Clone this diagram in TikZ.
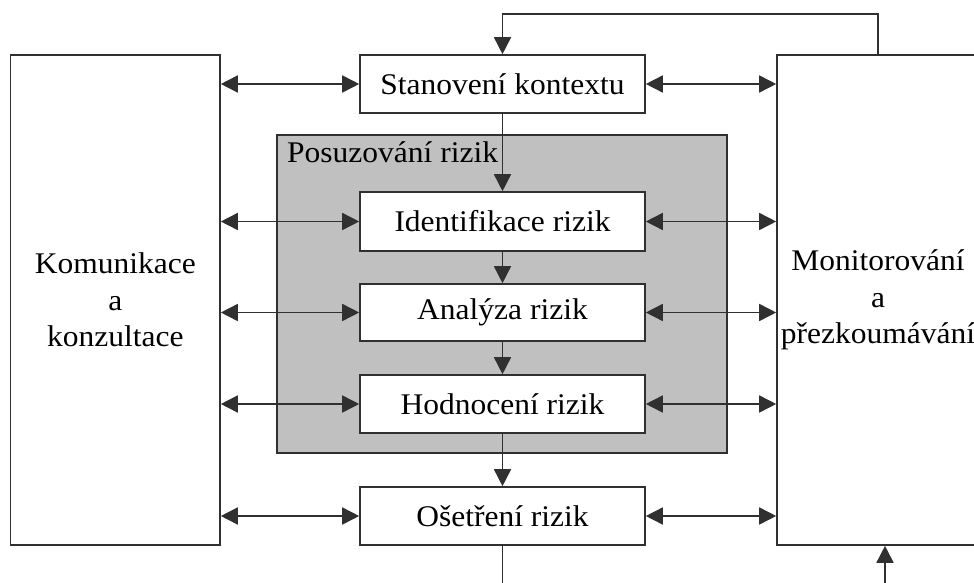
\documentclass[tikz,border=0pt]{standalone}
\usepackage{fontspec}
\setmainfont{Liberation Serif}[FakeStretch=1.05]
\usetikzlibrary{arrows.meta}
\definecolor{linec}{HTML}{303030}
\definecolor{grayfill}{HTML}{C0C0C0}
\tikzset{
  every node/.style={font=\fontsize{30}{36.5}\selectfont, text=black},
  procbox/.style={draw=linec, line width=1.6pt, fill=white, minimum width=285pt, inner sep=0pt, anchor=center},
  sidebox/.style={draw=linec, line width=1.6pt, fill=white, inner sep=0pt, align=center, anchor=center},
  conn/.style={draw=linec, line width=1.6pt, -{Triangle[length=17pt,width=17pt]}},
  biconn/.style={draw=linec, line width=1.6pt, {Triangle[length=17pt,width=17pt]}-{Triangle[length=17pt,width=17pt]}},
  plainline/.style={draw=linec, line width=1.6pt}
}
\begin{document}
\begin{tikzpicture}[x=1pt,y=-1pt]
\useasboundingbox (0,0) rectangle (974,583);
% gray region
\draw[linec, line width=1.6pt, fill=grayfill] (277,135) rectangle (727,453);
\node[anchor=base west, inner sep=0pt] (posuz) at (287,162) {Posuzování rizik};
% side boxes
\node[sidebox, minimum width=209.5pt, minimum height=490pt] (L) at (115.25,300) {Komunikace\\a\\konzultace};
\node[sidebox, minimum width=202pt, minimum height=490pt] (R) at (878,300) {Monitorování\\a\\přezkoumávání};
% process boxes
\node[procbox, minimum height=58pt] (S) at (502.5,84) {Stanovení kontextu};
\node[procbox, minimum height=59pt] (I) at (502.5,221.5) {Identifikace rizik};
\node[procbox, minimum height=57pt] (A) at (502.5,312.5) {Analýza rizik};
\node[procbox, minimum height=58pt] (H) at (502.5,404) {Hodnocení rizik};
\node[procbox, minimum height=58pt] (O) at (502.5,516) {Ošetření rizik};
% vertical flow
\draw[conn] (S) -- (I);
\draw[conn] (I) -- (A);
\draw[conn] (A) -- (H);
\draw[conn] (H) -- (O);
% horizontal bidirectional arrows
\foreach \n in {S,I,A,H,O}{
  \draw[biconn] (L.east |- \n.west) -- (\n.west);
  \draw[biconn] (\n.east) -- (R.west |- \n.east);
}
% feedback loop at top
\coordinate (fb) at (502.5,14);
\draw[conn] (R.north) |- (fb) -- (S.north);
% bottom lines
\coordinate (b1) at (502.5,590);
\coordinate (b2) at (885,590);
\draw[plainline] (O.south) -- (b1);
\draw[conn] (b2) -- (b2 |- R.south);
\end{tikzpicture}
\end{document}
